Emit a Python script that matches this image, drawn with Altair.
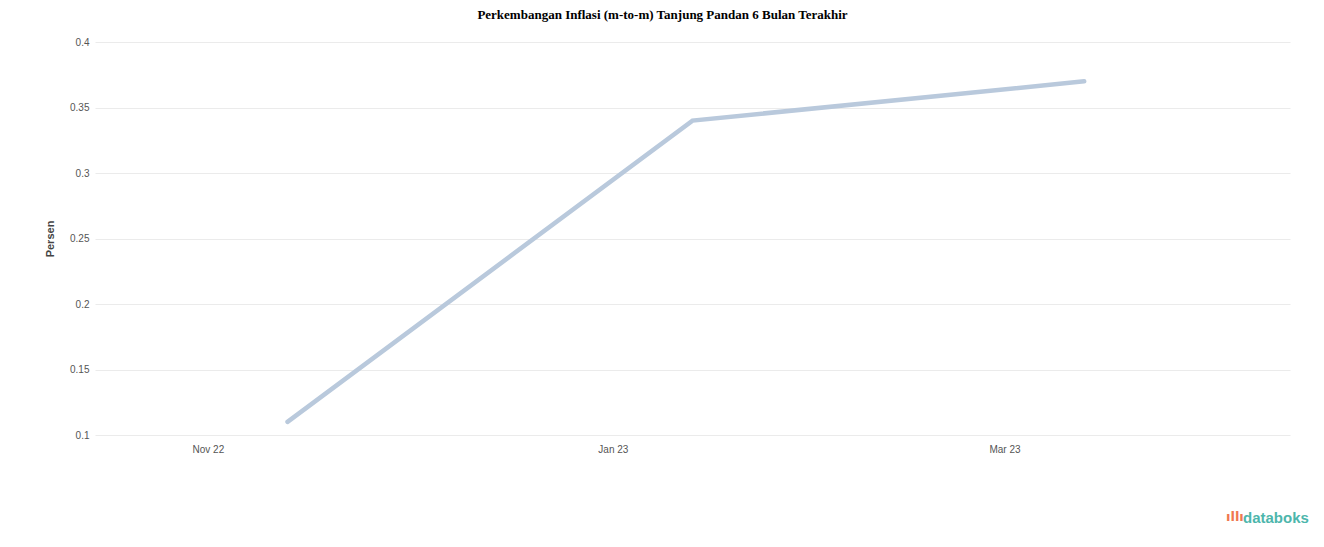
import altair as alt
import pandas as pd

dates = ["2022-11-13", "2023-01-13", "2023-03-13"]
values = [0.11, 0.34, 0.37]
tick_dates = ["2022-11-01", "2023-01-01", "2023-03-01"]
y_ticks = [0.1, 0.15, 0.2, 0.25, 0.3, 0.35, 0.4]

df = pd.DataFrame({"Bulan": pd.to_datetime(dates), "Persen": values})

tick_vals = [alt.DateTime(year=int(d[:4]), month=int(d[5:7]), date=int(d[8:])) for d in tick_dates]

base = alt.Chart(df)

line = base.mark_line(color="#b9c9dc", strokeWidth=4.5, strokeCap="round").encode(
    x=alt.X(
        "Bulan:T",
        scale=alt.Scale(domain=[alt.DateTime(year=2022, month=10, date=15),
                                alt.DateTime(year=2023, month=4, date=13)]),
        axis=alt.Axis(values=tick_vals, format="%b %y", title=None, grid=False,
                      domain=False, ticks=False, labelPadding=9, labelFontSize=10,
                      labelColor="#555", labelFont="Liberation Sans"),
    ),
    y=alt.Y(
        "Persen:Q",
        scale=alt.Scale(domain=[0.1, 0.4], nice=False, zero=False),
        axis=alt.Axis(values=y_ticks, format=".2~f", title="Persen", grid=True,
                      gridColor="#ebebeb", domain=False, ticks=False, labelPadding=6,
                      labelFontSize=10, labelColor="#555", labelFont="Liberation Sans",
                      titleFont="Liberation Sans", titleFontSize=11, titleColor="#444",
                      titlePadding=14, titleFontWeight="bold"),
    ),
)

logo_text = alt.Chart(pd.DataFrame({"t": ["databoks"]})).mark_text(
    align="left", baseline="middle", fontSize=15, font="Liberation Sans",
    color="#4db6ac", fontWeight="bold"
).encode(text="t:N", x=alt.value(1148), y=alt.value(476))

logo_icon = alt.Chart(pd.DataFrame({"t": ["ıllı"]})).mark_text(
    align="left", baseline="middle", fontSize=13, font="DejaVu Sans",
    color="#f07850", fontWeight="bold"
).encode(text="t:N", x=alt.value(1131), y=alt.value(475))

chart = alt.layer(line, logo_text, logo_icon).properties(
    width=1195,
    height=393,
    title=alt.TitleParams(
        "Perkembangan Inflasi (m-to-m) Tanjung Pandan 6 Bulan Terakhir",
        font="Liberation Serif", fontSize=13, fontWeight="bold", color="#000",
        anchor="middle", dx=-30, offset=15,
    ),
    autosize=alt.AutoSizeParams(type="none"),
    padding={"left": 87, "top": 34, "right": 26, "bottom": 104},
).configure(
    background="#ffffff",
    view=alt.ViewConfig(stroke=None, strokeWidth=0),
)

chart.save("out.html", embed_options={"renderer": "svg", "actions": False})
